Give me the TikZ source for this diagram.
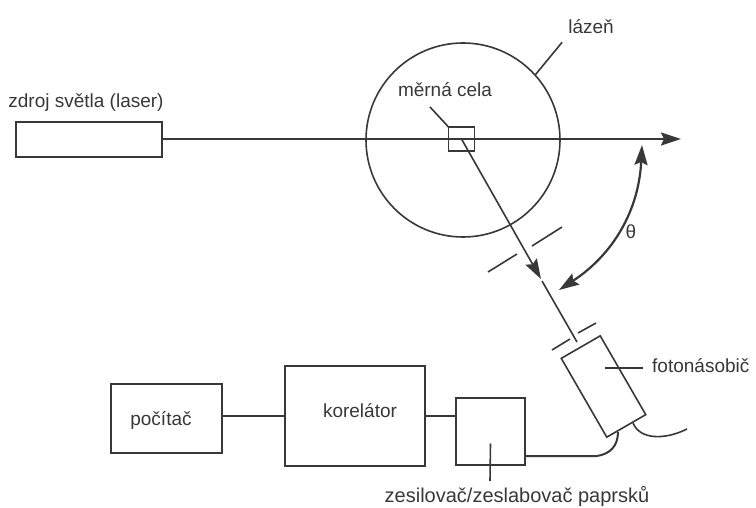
\documentclass[tikz,border=0pt]{standalone}
\usepackage{fontspec}
\setmainfont{Liberation Sans}
\usetikzlibrary{arrows.meta}
\tikzset{
  hrot/.tip={Stealth[length=20pt,width=13pt,inset=3pt]},
  linka/.style={line width=1.6pt, draw=black!78},
  blok/.style={linka, rectangle, inner sep=0pt, outer sep=0pt},
  popis/.style={inner sep=0pt, text=black!78, font=\fontsize{19}{22}\selectfont}
}
\begin{document}
\begin{tikzpicture}[x=1pt,y=-1pt]
  \useasboundingbox (0,0) rectangle (756,508);

  \node [blok, minimum width=146pt, minimum height=35pt] (laser) at (89,139.5) {};
  \node [linka, circle, inner sep=0pt, outer sep=0pt, minimum size=194pt] (lazen) at (463,140) {};
  \node [blok, minimum width=26pt, minimum height=24pt] (cela) at (461.5,139) {};
  \node [blok, minimum width=91pt, minimum height=45pt, rotate=-60] (foton) at (603.5,386.5) {};
  \node [blok, minimum width=111pt, minimum height=69pt] (pocitac) at (166.5,418.5) {};
  \node [blok, minimum width=140pt, minimum height=100pt] (korelator) at (355,416) {};
  \node [blok, minimum width=69pt, minimum height=67pt] (zesil) at (490.5,431.5) {};

  \node [popis] (pocitaclabel) at (161,420) {počítač};
  \node [popis] (korelatorlabel) at (360,411) {korelátor};
  \node [popis] (laserlabel) at (86,103) {zdroj světla (laser)};
  \node [popis] (lazenlabel) at (591,27) {lázeň};
  \node [popis] (celalabel) at (445,90) {měrná cela};
  \node [popis, anchor=west] (fotonlabel) at (652,366) {fotonásobič};
  \node [popis, font=\fontsize{20}{22}\selectfont] (zesillabel) at (517,497) {zesilovač/zeslabovač paprsků};
  \node [popis] (theta) at (631,232) {θ};

  \coordinate (beamend) at (681,139);
  \coordinate (scatmid) at (541,279);
  \coordinate (scatend) at (577,342);
  \coordinate (thetatop) at (642,145);
  \coordinate (thetabot) at (559,290);
  \coordinate (slitA1) at (488,272);
  \coordinate (slitA2) at (517,254);
  \coordinate (slitA3) at (532,246);
  \coordinate (slitA4) at (562,227);
  \coordinate (slitB1) at (552,350);
  \coordinate (slitB2) at (570,339);
  \coordinate (slitB3) at (578,333);
  \coordinate (slitB4) at (596,323);

  \draw [linka, line width=2.2pt, -hrot] (laser.east |- cela) -- (beamend);
  \draw [linka, -hrot] (cela.center) -- (scatmid);
  \draw [linka] (scatmid) ++(1,2) -- (scatend);
  \draw [linka] (slitA1) -- (slitA2);
  \draw [linka] (slitA3) -- (slitA4);
  \draw [linka] (slitB1) -- (slitB2);
  \draw [linka] (slitB3) -- (slitB4);
  \draw [linka, line width=2.2pt, hrot-hrot] (thetatop) to [bend left=27] (thetabot);

  \draw [linka] (430,107) -- (cela.north west);
  \draw [linka] (lazenlabel.south west) ++(-6,8) -- (lazen.42);
  \draw [linka] (fotonlabel.west) ++(-9,2) -- ++(-38,0);
  \draw [linka] (zesil.center) ++(0,12) -- (490,481);

  \draw [linka] (pocitac.east |- korelator) -- (korelator.west);
  \draw [linka] (korelator.east) -- (korelator.east -| zesil.west);
  \draw [linka, line width=2pt] (zesil.south east) ++(0,-9) -- (597,456) .. controls (610,454) and (618,446) .. (618,432);
  \draw [linka] (633,423) .. controls (640,440) and (665,440) .. (687,429);
\end{tikzpicture}
\end{document}
